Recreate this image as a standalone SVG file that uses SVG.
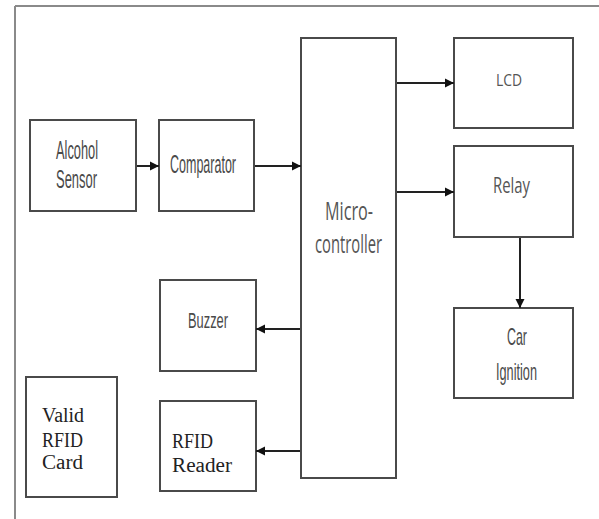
<svg xmlns="http://www.w3.org/2000/svg" width="599" height="519" viewBox="0 0 599 519">
<defs>
<marker id="ah" markerWidth="10" markerHeight="10" refX="9" refY="5" orient="auto" markerUnits="userSpaceOnUse">
<path d="M0,0.5 L9,5 L0,9.5 Z" fill="#111"/>
</marker>
<style>
.box{fill:#fff;stroke:#4a4a4a;stroke-width:2}
.sans{font-family:"Liberation Sans",Arial,sans-serif;fill:#4a4a4a}
.hum{font-family:"Open Sans","DejaVu Sans",sans-serif;fill:#555}
.serif{font-family:"Liberation Serif","Times New Roman",serif;fill:#222;font-size:20px}
.conn{stroke:#222;stroke-width:2;fill:none;marker-end:url(#ah)}
</style>
</defs>
<rect width="599" height="519" fill="#fff"/>
<g id="frame" stroke="#8a8a8a" stroke-width="2" fill="none">
<line x1="15" y1="6" x2="599" y2="6"/>
<line x1="15" y1="6" x2="15" y2="519"/>
</g>
<g id="alcohol-sensor">
<rect class="box" x="30" y="120" width="106" height="91"/>
<text class="sans" x="56" y="159" font-size="26" textLength="42" lengthAdjust="spacingAndGlyphs">Alcohol</text>
<text class="sans" x="56" y="188" font-size="26" textLength="41" lengthAdjust="spacingAndGlyphs">Sensor</text>
</g>
<g id="comparator">
<rect class="box" x="159" y="120" width="95" height="91"/>
<text class="sans" x="170" y="173" font-size="26" textLength="66" lengthAdjust="spacingAndGlyphs">Comparator</text>
</g>
<g id="microcontroller">
<rect class="box" x="301" y="38" width="95" height="440"/>
<text class="hum" x="325" y="220" font-size="26" textLength="48" lengthAdjust="spacingAndGlyphs">Micro-</text>
<text class="hum" x="315" y="253" font-size="26" textLength="67" lengthAdjust="spacingAndGlyphs">controller</text>
</g>
<g id="lcd">
<rect class="box" x="454" y="38" width="119" height="90"/>
<text class="hum" x="496" y="86" font-size="16" textLength="26" lengthAdjust="spacingAndGlyphs">LCD</text>
</g>
<g id="relay">
<rect class="box" x="454" y="146" width="119" height="91"/>
<text class="hum" x="493" y="193" font-size="21" textLength="37" lengthAdjust="spacingAndGlyphs">Relay</text>
</g>
<g id="car-ignition">
<rect class="box" x="454" y="308" width="119" height="90"/>
<text class="sans" x="507" y="345" font-size="24" textLength="20" lengthAdjust="spacingAndGlyphs">Car</text>
<text class="sans" x="496" y="380" font-size="24" textLength="41" lengthAdjust="spacingAndGlyphs">Ignition</text>
</g>
<g id="buzzer">
<rect class="box" x="160" y="280" width="96" height="91"/>
<text class="sans" x="188" y="328" font-size="22" textLength="40" lengthAdjust="spacingAndGlyphs">Buzzer</text>
</g>
<g id="rfid-reader">
<rect class="box" x="160" y="401" width="96" height="90"/>
<text class="serif" x="172" y="448" textLength="41" lengthAdjust="spacingAndGlyphs">RFID</text>
<text class="serif" x="172" y="472" textLength="60" lengthAdjust="spacingAndGlyphs">Reader</text>
</g>
<g id="valid-rfid-card">
<rect class="box" x="26" y="377" width="91" height="120"/>
<text class="serif" x="42" y="422" textLength="42" lengthAdjust="spacingAndGlyphs">Valid</text>
<text class="serif" x="42" y="447" textLength="41" lengthAdjust="spacingAndGlyphs">RFID</text>
<text class="serif" x="42" y="469" textLength="41" lengthAdjust="spacingAndGlyphs">Card</text>
</g>
<g id="connectors">
<line class="conn" x1="137" y1="166" x2="159" y2="166"/>
<line class="conn" x1="255" y1="166" x2="301" y2="166"/>
<line class="conn" x1="397" y1="83" x2="454" y2="83"/>
<line class="conn" x1="397" y1="192" x2="454" y2="192"/>
<line class="conn" x1="520" y1="238" x2="520" y2="308"/>
<line class="conn" x1="300" y1="329" x2="256" y2="329"/>
<line class="conn" x1="300" y1="451" x2="256" y2="451"/>
</g>
</svg>
